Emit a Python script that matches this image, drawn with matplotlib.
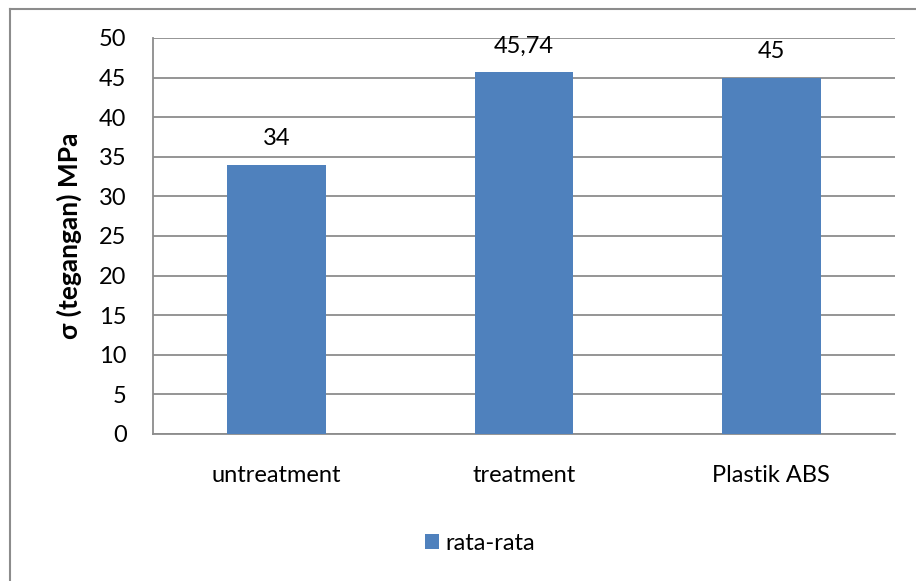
import matplotlib
matplotlib.use("Agg")
import matplotlib.pyplot as plt
from matplotlib.lines import Line2D
from matplotlib.patches import Patch

categories = ["untreatment", "treatment", "Plastik ABS"]
values = [34, 45.74, 45]
value_labels = ["34", "45,74", "45"]
series_name = "rata-rata"
y_ticks = [0, 5, 10, 15, 20, 25, 30, 35, 40, 45, 50]

W, H = 916, 581
fig = plt.figure(figsize=(W / 100, H / 100), dpi=100)
plt.rcParams["font.family"] = ["Lato", "DejaVu Sans"]

bar_color = "#4F81BD"
grid_color = "#8C8C8C"
fs = 17

# plot area in pixel coordinates
left, right, top, bottom = 153, 895, 38, 434
ax = fig.add_axes([left / W, 1 - bottom / H, (right - left) / W, (bottom - top) / H])

x = list(range(len(categories)))
ax.bar(x, values, width=0.4, color=bar_color, zorder=3)
ax.set_xlim(-0.5, len(categories) - 0.5)
ax.set_ylim(0, 50)
ax.set_yticks(y_ticks)
ax.set_yticklabels([str(t) for t in y_ticks], fontsize=fs)
ax.set_xticks(x)
ax.set_xticklabels(categories, fontsize=fs)
ax.tick_params(axis="both", length=0, colors="black")
ax.tick_params(axis="y", pad=19)
ax.tick_params(axis="x", pad=22)
ax.grid(axis="y", color=grid_color, linewidth=1.3, zorder=0)

for s in ["top", "right"]:
    ax.spines[s].set_visible(False)
for s in ["left", "bottom"]:
    ax.spines[s].set_color(grid_color)
    ax.spines[s].set_linewidth(1.3)

for xi, v, lab in zip(x, values, value_labels):
    ax.annotate(lab, (xi, v), xytext=(0, 11), textcoords="offset points",
                ha="center", va="bottom", fontsize=fs)

ax.set_ylabel("σ (tegangan) MPa", fontsize=19, fontweight="bold", labelpad=12)

# chart border (top and left edges)
fig.add_artist(Line2D([10 / W, 1], [1 - 9 / H, 1 - 9 / H], transform=fig.transFigure,
                      color="#8C8C8C", linewidth=1.5))
fig.add_artist(Line2D([10 / W, 10 / W], [0, 1 - 9 / H], transform=fig.transFigure,
                      color="#8C8C8C", linewidth=1.5))

handle = Patch(facecolor=bar_color, edgecolor="none")
fig.legend([handle], [series_name], loc="center", bbox_to_anchor=(480 / W, 1 - 543 / H),
           frameon=False, fontsize=fs, handlelength=0.6, handleheight=0.6,
           handletextpad=0.3)

fig.savefig("out.png", dpi=100)
